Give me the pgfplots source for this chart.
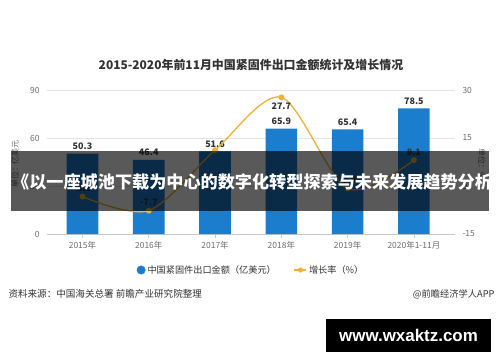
\documentclass[border=0pt]{standalone}
\usepackage{fontspec}
\setmainfont{Noto Sans CJK SC}
\newfontfamily\wmfont{Liberation Sans}
\usepackage{pgfplots}
\pgfplotsset{compat=1.18}
\definecolor{barblue}{HTML}{1A7DCE}
\definecolor{lineorange}{HTML}{F0B232}
\definecolor{tickgray}{HTML}{6E6E6E}
\definecolor{gridgray}{HTML}{E4E4E4}
\definecolor{axisgray}{HTML}{C8C8C8}
\definecolor{darktext}{HTML}{333333}
\begin{document}
\begin{tikzpicture}[x=1bp,y=1bp]
\path[use as bounding box] (0,0) rectangle (500,362);
\fill[white] (0,0) rectangle (500,362);
% title
\node[font=\bfseries\fontsize{12}{14}\selectfont, text=darktext] at (251,297) {2015-2020年前11月中国紧固件出口金额统计及增长情况};
% axis names
\node[rotate=90, font=\fontsize{8}{9}\selectfont, text=tickgray] at (15,198) {单位：亿美元};
\node[rotate=-90, font=\fontsize{8}{9}\selectfont, text=tickgray] at (482,198) {单位：\%};
\begin{axis}[
 at={(47bp,128bp)}, anchor=south west,
 scale only axis, width=408bp, height=144bp,
 xmin=-0.535, xmax=5.62, ymin=0, ymax=90,
 ytick={0,30,60,90},
 xtick={0,1,2,3,4,5},
 xticklabels={2015年,2016年,2017年,2018年,2019年,2020年1-11月},
 axis x line*=bottom, axis y line*=left,
 x axis line style={draw=axisgray, line width=0.7pt, -},
 y axis line style={draw=none},
 ymajorgrids, grid style={draw=gridgray, line width=0.7pt},
 xtick style={draw=axisgray, line width=0.7pt},
 ytick style={draw=none},
 tick align=outside, major tick length=4bp,
 ticklabel style={font=\fontsize{8.5}{10}\selectfont, text=tickgray},
 /pgf/number format/assume math mode=true,
 clip=false,
]
\addplot[ybar, bar width=31.6bp, fill=barblue, draw=none,
  nodes near coords,
  every node near coord/.append style={font=\bfseries\fontsize{9}{10}\selectfont, text=darktext, anchor=south, yshift=0.5bp},
  /pgf/number format/.cd, fixed, precision=1, fixed zerofill]
 coordinates {(0,50.3) (1,46.4) (2,51.6) (3,65.9) (4,65.4) (5,78.5)};
\end{axis}
\begin{axis}[
 at={(47bp,128bp)}, anchor=south west,
 scale only axis, width=408bp, height=144bp,
 xmin=-0.535, xmax=5.62, ymin=-15, ymax=30,
 ytick={-15,0,15,30},
 axis x line=none, axis y line*=right,
 y axis line style={draw=none}, ytick style={draw=none},
 tick align=outside, major tick length=4bp,
 ticklabel style={font=\fontsize{8.5}{10}\selectfont, text=tickgray},
 /pgf/number format/assume math mode=true,
 clip=false,
 legend style={at={(0.5,-0.25)}, anchor=center, draw=none, fill=none,
   legend columns=2, font=\fontsize{9.2}{10}\selectfont, text=darktext,
   /tikz/every even column/.append style={column sep=16bp}},
]
\addlegendimage{legend image code/.code={\fill[barblue] (5bp,0bp) circle (4.2bp);}}
\addlegendentry{中国紧固件出口金额（亿美元）}
\addlegendimage{legend image code/.code={\draw[lineorange, line width=1.2pt] (0bp,0bp) -- (12bp,0bp); \fill[lineorange] (6bp,0bp) circle (2.3bp);}}
\addlegendentry{增长率（\%）}
\addplot[lineorange, line width=1.3pt, smooth, mark=*, mark size=2.3pt,
  mark options={solid, fill=lineorange, draw=lineorange}]
 coordinates {(0,-3.3) (1,-7.7) (2,11.2) (3,27.7) (4,-0.8) (5,8.1)};
\addplot[draw=none, mark=none, nodes near coords,
  every node near coord/.append style={font=\bfseries\fontsize{9}{10}\selectfont, text=darktext, anchor=south, yshift=1bp},
  /pgf/number format/.cd, fixed, precision=1, fixed zerofill]
 coordinates {(0,-3.3) (1,-7.7) (4,-0.8) (5,8.1)};
\addplot[draw=none, mark=none, nodes near coords,
  every node near coord/.append style={font=\bfseries\fontsize{9}{10}\selectfont, text=darktext, anchor=north, yshift=-2bp},
  /pgf/number format/.cd, fixed, precision=1, fixed zerofill]
 coordinates {(3,27.7)};
\end{axis}
% sources
\node[anchor=west, font=\fontsize{9.6}{11}\selectfont, text=darktext] at (5,68) {资料来源：中国海关总署 前瞻产业研究院整理};
\node[anchor=east, font=\fontsize{9.3}{11}\selectfont, text=darktext] at (498,68) {@前瞻经济学人APP};
% overlay band
\fill[black, fill opacity=0.65] (11,151) rectangle (489,211);
\begin{scope}
\clip (11,151) rectangle (489,211);
\node[anchor=west, font=\bfseries\fontsize{17.2}{20}\selectfont, text=white, inner sep=0pt] at (12,180) {《以一座城池下载为中心的数字化转型探索与未来发展趋势分析》};
\end{scope}
% watermark box
\fill[black] (326,10) rectangle (491,43);
\node[font=\wmfont\bfseries\fontsize{17}{20}\selectfont, text=white] at (408.5,26.5) {www.wxaktz.com};
\end{tikzpicture}
\end{document}
